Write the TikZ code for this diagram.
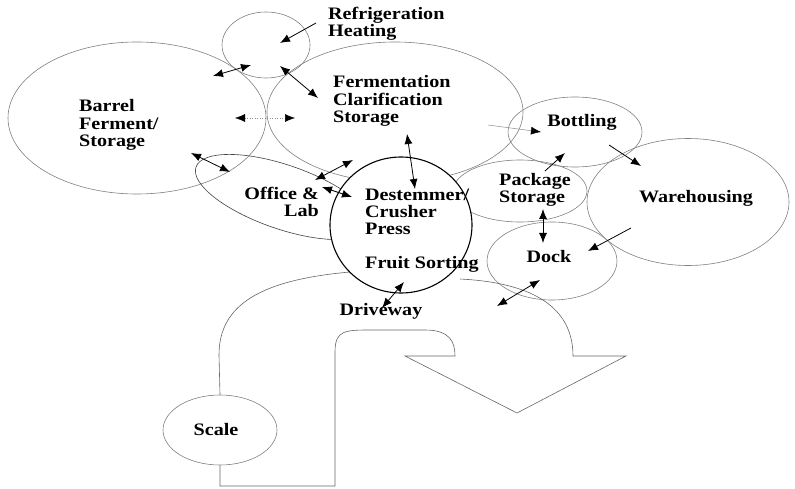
\documentclass[tikz,border=0pt]{standalone}
\usepackage{fontspec}
\setmainfont{Liberation Serif}[FakeStretch=1.15]
\usetikzlibrary{arrows.meta,shapes.geometric}
\tikzset{
  zone/.style={ellipse, draw=black!50, line width=0.6pt, inner sep=0pt},
  road/.style={draw=black!60, line width=0.6pt},
  lbl/.style={font=\fontsize{17.5}{17.5}\selectfont\bfseries, inner sep=0pt, align=left},
  flow/.style={-{Latex[length=10pt,width=8pt]}, line width=0.8pt},
  both/.style={{Latex[length=10pt,width=8pt]}-{Latex[length=10pt,width=8pt]}, line width=0.8pt},
  faint/.style={draw=black!45, line width=0.5pt},
}
\begin{document}
\begin{tikzpicture}[x=1pt,y=-1pt]
  \useasboundingbox (0,0) rectangle (795,489);
  \node[zone, minimum width=258, minimum height=152] (barrel) at (137,118) {};
  \node[zone, minimum width=88, minimum height=66] (refr) at (266,45) {};
  \node[zone, minimum width=256, minimum height=140] (ferm) at (395,112) {};
  \node[zone, minimum width=134, minimum height=70] (bott) at (575,132) {};
  \node[zone, minimum width=134, minimum height=62] (pack) at (520,191) {};
  \node[zone, minimum width=202, minimum height=127] (ware) at (688,202) {};
  \node[zone, minimum width=130, minimum height=78] (dock) at (552,261) {};
  \node[zone, draw=black!75, rotate=-19, minimum width=184, minimum height=64] (office) at (283,197) {};
  \node[zone, minimum width=114, minimum height=70] (scale) at (220,430) {};
  \draw[road] (350,272) .. controls (260,280) and (219,305) .. (219,355) -- (scale.north);
  \draw[road] (scale.south) -- (220,486) -- (335,486) -- (335,352)
    .. controls (335,330) and (345,330) .. (372,330) -- (425,330)
    .. controls (450,330) and (455,342) .. (455,356) -- (405,356) -- (517,413) -- (626,356)
    -- (573,356) .. controls (573,300) and (520,282) .. (460,279);
  \node[zone, draw=black, line width=1.1pt, fill=white, minimum width=142, minimum height=136] (crush) at (401,225) {};

  \node[lbl, anchor=base west] (refrT) at (328,37) {Refrigeration\\Heating};
  \node[lbl, anchor=base west] (barrelT) at (79,147) {Barrel\\Ferment/\\Storage};
  \node[lbl, anchor=base west] (fermT) at (333,123) {Fermentation\\Clarification\\Storage};
  \node[lbl, anchor=base] (bottT) at (582,127) {Bottling};
  \node[lbl, anchor=base west] (packT) at (499,203) {Package\\Storage};
  \node[lbl, anchor=base] (wareT) at (696,203) {Warehousing};
  \node[lbl, align=right, anchor=base east] (officeT) at (319,217) {Office \&\\Lab};
  \node[lbl, anchor=base west] (crushT) at (365,235) {Destemmer/\\Crusher\\Press};
  \node[lbl, anchor=base west] (sortT) at (365,268) {Fruit Sorting};
  \node[lbl, anchor=base] (dockT) at (549,262) {Dock};
  \node[lbl, anchor=base] (driveT) at (381,315) {Driveway};
  \node[lbl, anchor=base] (scaleT) at (216,435) {Scale};

  \coordinate (ra) at (316,23);  \coordinate (rb) at (280,43);
  \coordinate (rc) at (213,76);  \coordinate (rd) at (251,65);
  \coordinate (re) at (280,66);  \coordinate (rf) at (318,98);
  \coordinate (ba) at (235,118); \coordinate (bb) at (295,118);
  \coordinate (bc) at (191,153); \coordinate (bd) at (230,172);
  \coordinate (oa) at (315,180); \coordinate (ob) at (353,160);
  \coordinate (oc) at (322,187); \coordinate (od) at (352,197);
  \coordinate (fa) at (407,134); \coordinate (fb) at (415,189);
  \coordinate (fc) at (488,125); \coordinate (fd) at (541,132);
  \coordinate (pa) at (545,171); \coordinate (pb) at (565,153);
  \coordinate (bo) at (609,145); \coordinate (bw) at (641,166);
  \coordinate (wa) at (631,228); \coordinate (wb) at (588,251);
  \coordinate (pc) at (543,209); \coordinate (pd) at (543,243);
  \coordinate (da) at (540,280); \coordinate (db) at (497,306);
  \coordinate (dc) at (404,282); \coordinate (dd) at (382,308);

  \draw[flow] (ra) -- (rb);
  \draw[both] (rc) -- (rd);
  \draw[both] (re) -- (rf);
  \draw[both, faint, dotted, {Latex[color=black,length=10pt,width=8pt]}-{Latex[color=black,length=10pt,width=8pt]}] (ba) -- (bb);
  \draw[both] (bc) -- (bd);
  \draw[both] (oa) -- (ob);
  \draw[both] (oc) -- (od);
  \draw[both] (fa) -- (fb);
  \draw[flow, faint, -{Latex[color=black,length=10pt,width=8pt]}] (fc) -- (fd);
  \draw[flow] (pa) -- (pb);
  \draw[flow] (bo) -- (bw);
  \draw[flow] (wa) -- (wb);
  \draw[both] (pc) -- (pd);
  \draw[both] (da) -- (db);
  \draw[both] (dc) -- (dd);
\end{tikzpicture}
\end{document}
